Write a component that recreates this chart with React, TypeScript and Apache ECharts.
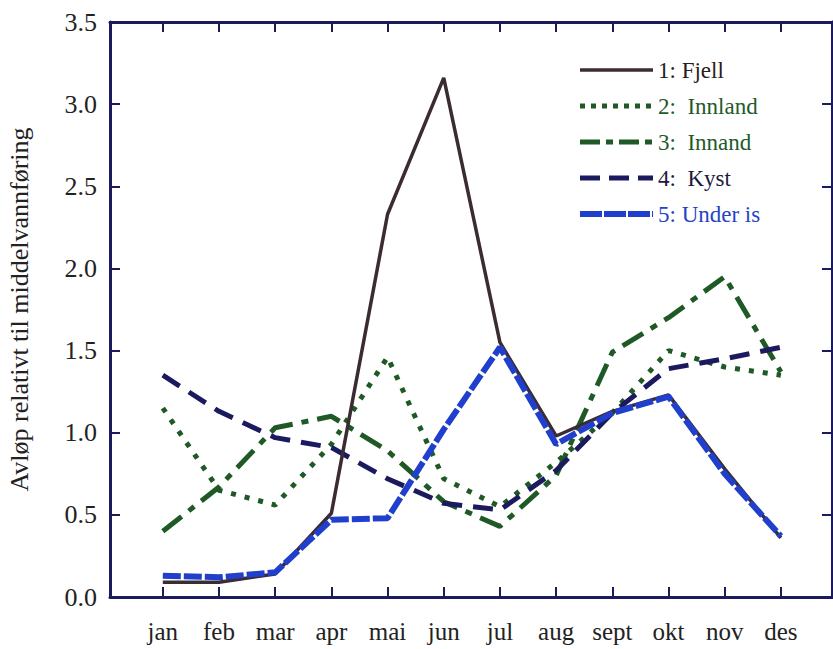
import React, { useEffect, useRef } from "react";
import * as echarts from "echarts";

const months = ["jan", "feb", "mar", "apr", "mai", "jun", "jul", "aug", "sept", "okt", "nov", "des"];

const fjell = [0.09, 0.09, 0.14, 0.51, 2.33, 3.16, 1.55, 0.98, 1.13, 1.23, 0.78, 0.36];
const innland = [1.15, 0.65, 0.56, 0.93, 1.46, 0.72, 0.55, 0.82, 1.12, 1.5, 1.4, 1.35];
const innand = [0.4, 0.67, 1.03, 1.1, 0.89, 0.58, 0.43, 0.74, 1.49, 1.7, 1.95, 1.37];
const kyst = [1.35, 1.13, 0.97, 0.91, 0.72, 0.57, 0.53, 0.77, 1.12, 1.39, 1.45, 1.52];
const underIs = [0.13, 0.12, 0.15, 0.47, 0.48, 1.02, 1.52, 0.93, 1.12, 1.22, 0.75, 0.37];

const names = ["1: Fjell", "2:  Innland", "3:  Innand", "4:  Kyst", "5: Under is"];
const textColors = ["#2a1c20", "#1f5a2c", "#1f5a2c", "#1c1a3c", "#2444c4"];
const lineColors = ["#3a2c32", "#1f5a26", "#1f5a26", "#1c1a5e", "#1f3fcc"];
const lineWidths = [3.5, 5, 5, 5, 6];
const lineTypes: any[] = ["solid", [5, 9], [24, 9, 7, 9], [20, 11], [18, 3]];
const legendTypes: any[] = ["solid", [5, 6], [20, 6, 7, 6], [20, 9], [22, 2]];
const seriesData = [fjell, innland, innand, kyst, underIs];
const zs = [3, 2, 2, 2, 4];

const FONT = "Liberation Serif";
const AXIS = "#1b1a5c";

export default function App() {
  const ref = useRef<HTMLDivElement>(null);
  useEffect(() => {
    if (!ref.current) return;
    const chart = echarts.init(ref.current, null, { renderer: "svg" });
    const toPts = (arr: number[]) => arr.map((v, i) => [i, v]);
    const idx = months.map((_, i) => i);
    const option: any = {
      animation: false,
      backgroundColor: "#ffffff",
      textStyle: { fontFamily: FONT },
      grid: { left: 110, right: 1, top: 22, bottom: 52, containLabel: false, outerBoundsMode: "none" },
      legend: {
        left: 577,
        top: 58,
        orient: "vertical",
        itemWidth: 73,
        itemHeight: 14,
        itemGap: 12,
        padding: 0,
        itemStyle: { opacity: 0 },
        textStyle: { fontFamily: FONT, fontSize: 23, lineHeight: 24 },
        data: names.map((n, i) => ({
          name: n,
          itemStyle: { opacity: 0 },
          lineStyle: { width: lineWidths[i], type: legendTypes[i], color: lineColors[i], cap: "butt" },
          textStyle: { color: textColors[i], fontSize: 23, fontFamily: FONT },
        })),
      },
      xAxis: [
        {
          type: "value",
          min: -0.94,
          max: 11.91,
          position: "bottom",
          splitLine: { show: false },
          axisLine: { show: true, onZero: false, lineStyle: { color: AXIS, width: 3 } },
          axisTick: { show: true, inside: true, length: 10, customValues: idx, lineStyle: { color: AXIS, width: 2 } },
          axisLabel: {
            show: true,
            customValues: idx,
            margin: 22,
            color: "#222",
            fontSize: 25,
            fontFamily: FONT,
            formatter: (v: number) => months[Math.round(v)] ?? "",
          },
        },
        {
          type: "value",
          min: -0.94,
          max: 11.91,
          position: "top",
          splitLine: { show: false },
          axisLine: { show: true, onZero: false, lineStyle: { color: AXIS, width: 3 } },
          axisTick: { show: true, inside: true, length: 10, customValues: idx, lineStyle: { color: AXIS, width: 2 } },
          axisLabel: { show: false },
        },
      ],
      yAxis: [
        {
          type: "value",
          min: 0,
          max: 3.5,
          interval: 0.5,
          position: "left",
          name: "Avløp relativt til middelvannføring",
          nameLocation: "middle",
          nameGap: 78,
          nameTextStyle: { fontSize: 26, color: "#222", fontFamily: FONT },
          splitLine: { show: false },
          axisLine: { show: true, onZero: false, lineStyle: { color: AXIS, width: 3 } },
          axisTick: { show: true, inside: true, length: 10, lineStyle: { color: AXIS, width: 2 } },
          axisLabel: {
            margin: 13,
            color: "#222",
            fontSize: 26,
            fontFamily: FONT,
            formatter: (v: number) => v.toFixed(1),
          },
        },
        {
          type: "value",
          min: 0,
          max: 3.5,
          interval: 0.5,
          position: "right",
          splitLine: { show: false },
          axisLine: { show: true, onZero: false, lineStyle: { color: AXIS, width: 3 } },
          axisTick: { show: true, inside: true, length: 10, lineStyle: { color: AXIS, width: 2 } },
          axisLabel: { show: false },
        },
      ],
      series: seriesData.map((arr, i) => ({
        name: names[i],
        type: "line",
        data: toPts(arr),
        symbol: "none",
        color: lineColors[i],
        lineStyle: { color: lineColors[i], width: lineWidths[i], type: lineTypes[i] },
        z: zs[i],
      })),
    };
    chart.setOption(option);
    return () => chart.dispose();
  }, []);
  return (
    <div
      ref={ref}
      style={{ position: "fixed", left: 0, top: 0, width: 833, height: 649, background: "#fff" }}
    />
  );
}
